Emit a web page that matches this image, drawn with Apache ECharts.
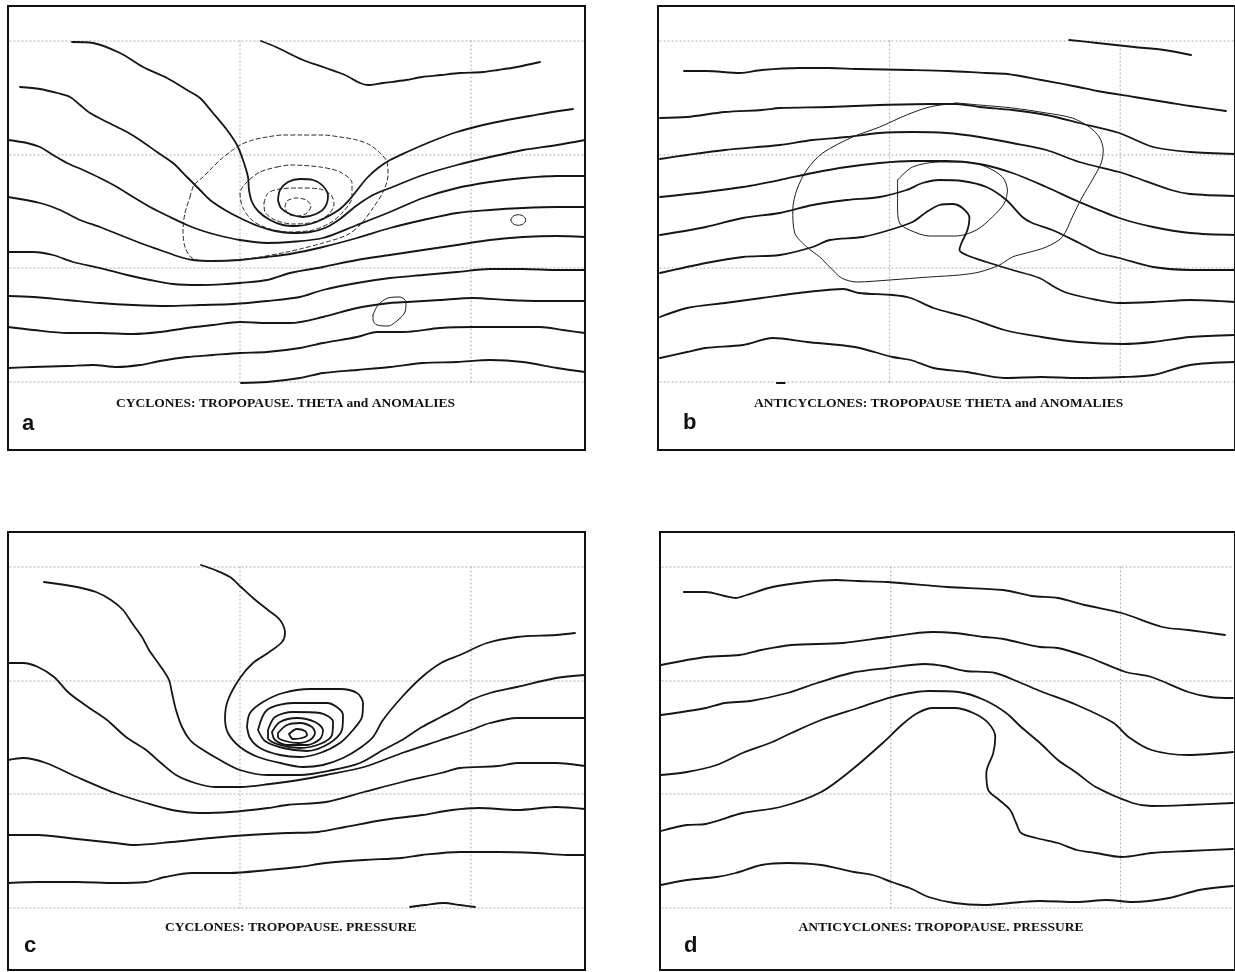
<!DOCTYPE html>
<html>
<head>
<meta charset="utf-8">
<script src="https://cdn.jsdelivr.net/npm/echarts@6/dist/echarts.min.js"></script>
<style>
  html, body { margin: 0; padding: 0; background: #fff; }
  #chart { width: 1235px; height: 972px; }
</style>
</head>
<body>
<div id="chart"></div>
<script>
// Composite tropopause maps. Coordinates are map units inside each frame:
// x grows eastwards from the frame's west edge, y grows southwards from its north edge.

// ---- graticule (shared by all four maps) ----
const gratLon = [23.2, 46.3];
const gratLat = [3.5, 14.9, 26.2, 37.6];

// ---- (a) cyclones: tropopause theta (solid) ----
const cycTheta1 = [[25.3,3.5],[26.8,4.1],[29.5,5.4],[31.8,6.2],[33.7,6.9],[35.2,7.7],[36.0,7.9],[37.5,7.7],[39.8,7.4],[41.4,7.1],[43.3,6.9],[45.2,6.7],[47.5,6.6],[49.0,6.4],[50.9,6.1],[53.2,5.6]];
const cycTheta2 = [[6.4,3.6],[8.5,3.7],[11.2,4.7],[13.5,6.1],[15.9,7.2],[17.9,8.4],[19.2,9.2],[20.5,10.7],[21.9,12.4],[22.9,13.9],[23.5,15.4],[24.0,17.1],[24.1,18.4],[24.4,19.6],[25.0,20.5],[26.2,21.4],[27.5,21.9],[28.8,22.0],[30.2,21.8],[31.5,21.3],[33.2,20.3],[34.2,19.3],[35.0,18.3],[35.9,17.2],[37.0,16.2],[38.2,15.4],[39.9,14.6],[42.2,13.6],[44.9,12.6],[47.5,11.9],[49.9,11.4],[52.2,11.0],[54.4,10.6],[56.5,10.3]];
const cycTheta3 = [[1.2,8.1],[3.2,8.3],[4.9,8.7],[6.2,9.1],[7.2,9.9],[8.2,10.7],[9.9,11.6],[11.9,12.6],[13.2,13.4],[14.9,14.6],[16.5,15.7],[17.9,17.1],[19.2,18.4],[20.2,19.4],[21.7,20.4],[23.2,21.2],[25.0,22.0],[26.7,22.5],[28.4,22.7],[30.2,22.6],[31.7,22.2],[33.2,21.3],[34.8,20.0],[36.5,18.9],[38.2,18.2],[41.5,16.9],[44.9,15.9],[48.2,15.1],[51.5,14.4],[54.9,13.9],[57.7,13.4]];
const cycTheta4 = [[0,13.4],[1.9,13.7],[3.2,14.1],[4.5,14.9],[5.9,15.7],[7.5,16.4],[9.2,17.2],[10.9,18.1],[12.5,19.1],[14.2,20.1],[16.2,21.1],[17.9,21.9],[19.2,22.4],[20.9,22.9],[23.2,23.4],[25.9,23.7],[28.2,23.6],[31.5,23.2],[34.9,21.9],[38.2,20.6],[41.5,19.2],[44.9,18.2],[48.2,17.6],[51.5,17.2],[54.9,17.0],[57.7,17.0]];
const cycTheta5 = [[0,19.1],[3.2,19.7],[5.2,20.4],[7.2,21.4],[9.2,22.1],[11.2,22.9],[13.2,23.7],[15.2,24.4],[17.2,25.1],[18.5,25.4],[20.5,25.5],[23.2,25.4],[25.9,25.1],[28.2,24.8],[31.5,24.1],[34.9,23.2],[38.2,22.2],[41.5,21.4],[44.9,20.7],[48.2,20.4],[51.5,20.2],[54.9,20.1],[57.7,20.1]];
const cycTheta6 = [[0,24.6],[2.5,24.6],[4.5,24.9],[6.5,25.6],[9.2,26.2],[11.9,26.9],[14.2,27.4],[16.5,27.8],[19.2,27.9],[21.9,27.8],[23.2,27.7],[25.9,27.4],[28.2,26.7],[31.5,26.1],[34.9,25.4],[38.2,24.9],[41.5,24.4],[44.9,23.9],[48.2,23.4],[51.5,23.1],[54.9,23.0],[57.7,23.1]];
const cycTheta7 = [[0,29.0],[2.5,29.1],[5.9,29.4],[9.2,29.7],[12.5,29.9],[15.9,30.0],[19.2,29.9],[22.5,29.8],[25.9,29.5],[29.2,29.1],[31.5,28.4],[34.9,27.7],[38.2,27.2],[41.5,26.9],[44.9,26.6],[48.2,26.3],[51.5,26.3],[54.9,26.4],[57.7,26.4]];
const cycTheta8 = [[0,32.1],[2.5,32.4],[5.9,32.7],[9.2,32.7],[12.5,32.8],[15.2,32.6],[17.9,32.2],[20.5,31.9],[23.2,31.6],[25.9,31.7],[28.2,31.7],[31.5,31.1],[34.9,30.2],[38.2,29.7],[39.9,29.6],[43.2,29.4],[46.5,29.2],[49.9,29.4],[53.2,29.5],[57.7,29.5]];
const cycTheta9 = [[0,36.2],[2.5,36.1],[5.9,36.0],[8.5,35.9],[10.9,36.1],[13.2,35.9],[15.2,35.5],[17.9,35.1],[20.5,34.9],[23.2,34.7],[25.9,34.6],[29.2,34.2],[31.5,33.7],[34.9,33.1],[36.9,32.6],[39.5,32.6],[43.2,32.2],[46.5,32.1],[49.9,32.1],[53.2,32.1],[55.5,32.4],[57.7,32.7]];
const cycTheta10 = [[23.3,37.7],[25.9,37.6],[29.2,37.2],[31.5,36.7],[34.9,36.4],[38.2,36.1],[41.5,35.7],[44.9,35.6],[48.2,35.4],[51.5,35.6],[54.9,36.2],[57.7,36.6]];
const cycThetaCore = [[27.0,19.4],[27.2,18.4],[28.0,17.6],[29.2,17.3],[30.5,17.4],[31.5,18.0],[32.0,19.0],[31.7,20.1],[30.8,20.8],[29.5,21.1],[28.2,20.8],[27.3,20.2],[27.0,19.4]];
// small closed theta cells
const cycCellEast = [[50.28,21.4],[50.5,21.03],[51.03,20.87],[51.56,21.03],[51.78,21.4],[51.56,21.77],[51.03,21.93],[50.5,21.77],[50.28,21.4]];
const cycCellSouth = [[36.5,30.9],[37.0,29.9],[38.0,29.2],[39.2,29.1],[39.8,29.6],[39.7,30.6],[39.0,31.4],[38.0,32.0],[36.9,31.9],[36.5,31.4],[36.5,30.9]];
// anomalies (dashed)
const cycAnom1 = [[18.2,19.1],[18.6,17.9],[19.5,17.1],[20.4,16.2],[21.2,15.4],[22.2,14.6],[23.2,13.9],[24.5,13.4],[25.9,13.1],[27.5,12.9],[29.2,12.9],[31.5,12.9],[33.2,13.1],[34.9,13.4],[36.2,13.9],[37.2,14.7],[37.9,15.6],[38.0,16.9],[37.5,18.6],[36.5,20.2],[35.2,21.9],[33.9,22.9],[31.5,23.7],[29.2,24.3],[27.9,24.6],[25.2,25.1],[22.5,25.4],[19.9,25.5],[18.4,25.2],[17.7,24.1],[17.5,22.4],[17.7,20.7],[18.2,19.1]];
const cycAnom2 = [[26.9,16.1],[28.2,15.9],[31.2,16.1],[33.2,16.6],[34.4,17.7],[34.4,19.1],[33.5,20.6],[32.2,21.7],[30.5,22.4],[28.2,22.6],[26.2,22.3],[24.5,21.5],[23.5,20.2],[23.2,18.7],[23.9,17.6],[25.2,16.6],[26.9,16.1]];
const cycAnom3 = [[25.6,19.7],[26.0,18.7],[27.2,18.3],[29.2,18.2],[31.2,18.3],[32.3,18.9],[32.6,19.8],[32.1,20.8],[30.6,21.6],[28.5,21.8],[26.7,21.4],[25.7,20.6],[25.6,19.7]];
const cycAnom4 = [[27.7,20.1],[27.9,19.5],[28.8,19.2],[29.8,19.4],[30.3,20.0],[29.9,20.7],[28.9,21.0],[28.0,20.8],[27.7,20.1]];

// ---- (b) anticyclones: tropopause theta (thick) and anomalies (thin) ----
const antiTheta1 = [[41.2,3.4],[44.0,3.7],[47.7,4.1],[50.7,4.4],[53.4,4.9]];
const antiTheta2 = [[2.6,6.5],[4.8,6.5],[8.2,6.7],[10.4,6.4],[14.1,6.2],[17.1,6.2],[20.1,6.3],[25.3,6.4],[29.1,6.5],[32.8,6.7],[35.0,6.8],[38.4,7.4],[42.1,8.1],[44.0,8.5],[47.7,9.1],[51.4,9.7],[53.3,10.0],[56.9,10.5]];
const antiTheta3 = [[0.2,11.2],[2.9,11.1],[6.7,10.6],[10.4,10.4],[12.2,10.2],[17.2,10.1],[22.2,9.9],[27.2,9.8],[29.9,9.8],[32.2,10.1],[35.5,10.4],[38.9,10.9],[42.2,11.7],[46.2,12.7],[49.6,14.1],[53.3,14.6],[57.8,14.8]];
const antiTheta4 = [[0.2,15.3],[2.9,14.9],[6.7,14.4],[12.2,13.9],[15.5,13.4],[18.9,13.1],[22.2,12.7],[25.5,12.6],[28.9,12.7],[32.2,13.1],[35.5,13.7],[38.9,14.4],[42.2,15.6],[46.2,16.6],[47.7,17.1],[51.4,18.4],[53.3,18.8],[57.8,19.0]];
const antiTheta5 = [[0.2,19.1],[4.8,18.6],[8.5,18.1],[12.2,17.4],[15.5,16.7],[18.9,16.1],[22.2,15.7],[25.5,15.5],[28.9,15.5],[32.2,15.8],[35.5,16.7],[38.9,18.1],[42.2,19.6],[46.2,21.2],[49.6,22.1],[53.3,22.7],[57.8,22.9]];
const antiTheta6 = [[0.2,22.9],[4.8,22.1],[8.5,21.2],[12.2,20.7],[15.5,19.9],[18.9,19.4],[22.2,19.1],[24.9,18.4],[26.5,17.7],[28.2,17.4],[30.5,17.5],[32.9,18.1],[34.9,19.4],[36.5,21.1],[37.5,21.7],[39.5,22.4],[42.2,23.7],[44.2,24.7],[46.2,25.2],[49.6,26.1],[53.3,26.4],[57.8,26.4]];
const antiTheta7 = [[0.2,26.7],[4.8,25.7],[8.5,25.1],[12.2,24.9],[15.5,24.1],[17.2,23.4],[20.5,23.1],[23.2,22.4],[25.5,21.6],[26.9,20.6],[28.2,19.9],[29.5,19.8],[30.5,20.2],[31.2,21.2],[31.0,22.4],[30.4,23.7],[30.2,24.4],[30.9,24.9],[32.9,25.6],[35.5,26.4],[38.2,27.2],[39.9,28.2],[41.0,28.7],[44.0,29.4],[46.2,29.7],[49.6,29.6],[53.3,29.4],[57.8,29.6]];
const antiTheta8 = [[0.2,31.1],[2.9,30.2],[6.7,29.7],[10.4,29.2],[14.1,28.7],[18.6,28.3],[20.1,28.7],[23.5,28.9],[25.3,29.2],[27.6,30.2],[30.9,31.1],[34.7,32.4],[38.4,33.1],[42.1,33.6],[46.6,33.8],[49.6,33.6],[53.3,33.1],[57.8,32.9]];
const antiTheta9 = [[0.2,35.2],[2.9,34.6],[4.8,34.2],[8.5,33.9],[11.5,33.2],[14.9,33.6],[19.7,34.1],[23.5,35.1],[25.3,35.4],[27.6,36.2],[30.9,36.6],[34.7,37.2],[38.4,37.1],[42.1,37.2],[46.6,37.1],[49.6,36.9],[53.3,35.9],[57.8,35.6]];
const antiThetaStub = [[11.9,37.7],[12.7,37.7]];
const antiAnom1 = [[29.9,9.7],[27.2,10.1],[24.9,10.9],[22.2,12.1],[19.5,13.1],[16.5,14.7],[14.9,16.4],[13.9,18.4],[13.5,20.4],[13.7,22.7],[14.9,24.1],[16.2,25.1],[17.2,26.1],[18.4,27.2],[19.9,27.6],[23.2,27.4],[27.2,27.1],[30.2,26.9],[32.2,26.6],[34.2,25.9],[35.5,25.1],[36.9,24.7],[38.9,24.1],[40.5,23.1],[41.5,21.1],[42.5,19.1],[43.5,17.4],[44.4,15.7],[44.6,14.4],[44.2,13.1],[43.2,12.1],[41.5,11.2],[38.9,10.7],[35.5,10.2],[32.2,9.9],[29.9,9.7]];
const antiAnom2 = [[24.0,17.4],[25.5,16.1],[28.2,15.6],[30.9,15.6],[32.9,16.1],[34.5,17.1],[35.0,18.4],[34.7,19.7],[33.5,21.1],[31.9,22.4],[29.9,23.0],[27.2,23.0],[25.2,22.4],[24.2,21.7],[24.0,20.1],[24.0,18.4],[24.0,17.4]];

// ---- (c) cyclones: tropopause pressure ----
const cycPres1 = [[19.3,3.3],[20.7,3.8],[22.2,4.5],[23.3,5.5],[24.5,6.6],[26.0,7.8],[27.2,8.8],[27.7,10.1],[27.4,11.0],[26.0,12.1],[24.5,13.1],[23.2,14.6],[22.0,16.8],[21.7,18.6],[22.0,20.1],[23.2,21.5],[25.0,22.5],[27.2,23.1],[29.5,23.5],[31.5,23.3],[33.5,22.6],[35.2,21.6],[36.5,20.5],[37.5,18.8],[39.4,16.5],[41.4,14.5],[43.3,13.1],[45.2,12.3],[47.9,11.1],[50.9,10.5],[54.8,10.3],[56.7,10.1]];
const cycPres2 = [[3.6,5.0],[6.9,5.5],[8.8,6.0],[10.3,6.8],[11.5,7.8],[12.4,9.1],[13.4,10.5],[14.1,11.8],[15.3,13.5],[16.1,14.8],[16.4,16.1],[16.8,17.8],[17.4,19.5],[18.2,20.8],[19.2,21.6],[21.2,22.8],[23.2,23.8],[25.9,24.3],[29.2,24.3],[32.5,23.8],[35.2,23.1],[37.5,21.8],[39.4,20.8],[41.4,19.5],[43.3,18.5],[45.2,17.5],[46.3,16.8],[48.2,16.1],[50.9,15.5],[54.8,14.6],[57.7,14.3]];
const cycPres3 = [[0,13.1],[1.5,13.1],[3.0,13.5],[4.6,14.5],[6.1,16.1],[8.0,17.5],[9.9,18.8],[11.8,20.5],[13.8,21.8],[15.3,23.1],[16.8,24.3],[18.7,25.1],[20.7,25.5],[23.3,25.5],[26.2,25.2],[29.1,24.8],[31.8,24.3],[35.6,23.5],[39.4,22.1],[43.3,20.8],[46.3,19.8],[48.2,19.1],[50.9,18.6],[54.8,18.6],[57.7,18.6]];
const cycPres4 = [[0,22.8],[1.5,22.6],[3.8,23.1],[6.9,24.5],[10.7,26.1],[13.8,27.1],[16.4,27.8],[19.1,28.1],[22.2,28.0],[26.0,27.6],[27.9,27.3],[31.8,27.0],[35.6,26.0],[39.4,25.0],[43.3,24.1],[45.2,23.6],[49.0,23.4],[50.9,23.1],[54.8,23.1],[57.7,23.4]];
const cycPres5 = [[0,30.3],[3.0,30.3],[6.9,30.7],[10.7,31.1],[12.6,31.3],[16.4,31.0],[20.3,30.6],[24.1,30.3],[27.9,30.1],[31.0,30.0],[33.7,29.5],[37.5,28.8],[41.4,28.3],[44.4,27.8],[47.1,27.6],[50.9,27.8],[54.8,27.5],[57.7,27.7]];
const cycPres6 = [[0,35.1],[3.0,35.0],[6.9,35.0],[10.7,35.1],[13.8,35.0],[15.7,34.5],[18.4,34.1],[22.2,34.1],[26.0,33.8],[29.1,33.5],[31.8,33.1],[35.6,32.8],[39.4,32.6],[41.4,32.3],[45.2,32.0],[49.0,32.0],[52.8,32.1],[55.9,32.3],[57.7,32.3]];
const cycPres7 = [[40.2,37.5],[41.7,37.3],[43.6,37.1],[45.2,37.3],[46.7,37.5]];
const cycPresRing1 = [[23.9,19.5],[24.2,18.1],[25.5,17.0],[27.5,16.1],[30.2,15.7],[33.2,15.7],[34.9,16.1],[35.5,17.1],[35.4,18.5],[34.5,19.8],[33.2,21.1],[31.2,22.1],[29.2,22.5],[27.2,22.3],[25.2,21.6],[24.2,20.6],[23.9,19.5]];
const cycPresRing2 = [[25.0,19.8],[25.9,17.8],[28.5,17.1],[31.9,17.1],[33.5,18.3],[33.4,19.8],[32.2,21.1],[29.9,21.9],[27.5,21.6],[25.7,20.9],[25.0,19.8]];
const cycPresRing3 = [[26.0,19.8],[26.7,18.5],[28.5,18.0],[31.2,18.1],[32.5,19.0],[32.4,20.3],[31.2,21.2],[29.2,21.6],[27.2,21.3],[26.0,20.6],[26.0,19.8]];
const cycPresRing4 = [[26.4,20.0],[27.2,19.0],[28.9,18.6],[30.7,19.0],[31.5,19.8],[31.2,20.7],[29.9,21.3],[28.0,21.3],[26.7,20.8],[26.4,20.0]];
const cycPresRing5 = [[27.0,20.1],[27.9,19.3],[29.2,19.1],[30.4,19.5],[30.7,20.1],[30.2,20.8],[29.0,21.1],[27.7,20.9],[27.0,20.5],[27.0,20.1]];
const cycPresRing6 = [[28.1,20.2],[28.9,19.7],[29.7,19.9],[29.9,20.3],[29.4,20.6],[28.5,20.7],[28.1,20.2]];

// ---- (d) anticyclones: tropopause pressure ----
const antiPres1 = [[2.4,6.0],[4.6,6.0],[6.5,6.4],[7.6,6.6],[8.7,6.3],[11.3,5.5],[14.7,5.0],[17.7,4.8],[19.9,4.9],[22.9,5.0],[28.9,5.5],[34.5,5.8],[37.4,6.4],[40.0,6.6],[42.7,7.3],[46.4,8.1],[50.5,9.5],[53.1,9.8],[56.8,10.3]];
const antiPres2 = [[0.1,13.3],[4.6,12.5],[8.0,12.3],[10.2,11.8],[13.2,11.3],[18.4,11.1],[22.9,10.5],[27.4,10.0],[29.6,10.1],[32.6,10.5],[34.5,10.7],[38.2,11.5],[40.0,11.6],[43.0,12.5],[46.8,14.0],[49.4,14.5],[53.1,16.0],[55.3,16.5],[57.6,16.6]];
const antiPres3 = [[0.1,18.3],[4.6,17.6],[6.5,17.1],[9.1,16.9],[12.8,16.1],[15.8,15.1],[19.2,14.1],[22.9,13.6],[26.6,13.2],[28.5,13.4],[30.7,13.9],[33.7,14.1],[36.3,15.1],[38.2,15.9],[41.9,17.3],[45.6,19.1],[47.1,20.5],[49.4,21.8],[53.1,22.3],[57.6,22.0]];
const antiPres4 = [[0.1,24.3],[2.7,24.0],[5.7,23.3],[8.3,22.1],[11.3,21.0],[13.2,20.1],[16.2,18.8],[19.9,17.6],[23.3,16.5],[27.0,15.9],[30.0,16.0],[32.6,16.8],[34.8,18.1],[36.3,19.5],[38.2,21.1],[40.0,22.8],[41.9,24.1],[43.8,25.5],[47.5,27.1],[49.4,27.4],[53.1,27.3],[57.6,27.1]];
const antiPres5 = [[0.1,29.9],[2.7,29.3],[4.6,29.2],[8.3,28.1],[12.1,27.5],[16.2,26.0],[19.5,23.6],[22.5,21.0],[24.4,19.2],[25.9,18.1],[27.4,17.6],[29.6,17.6],[31.5,18.1],[33.0,19.1],[33.7,20.5],[33.5,22.1],[32.8,24.1],[33.0,25.8],[34.1,26.8],[35.2,27.8],[35.8,29.1],[36.3,30.1],[37.8,30.6],[40.0,31.1],[41.9,31.8],[43.8,32.1],[46.4,32.5],[49.4,32.1],[53.1,31.9],[57.6,31.7]];
const antiPres6 = [[0.1,35.3],[2.7,34.8],[5.7,34.5],[7.6,34.1],[10.2,33.3],[12.8,33.1],[16.2,33.3],[19.5,34.0],[21.4,34.3],[23.3,35.0],[25.1,35.6],[27.0,36.5],[29.6,37.1],[32.6,37.3],[36.3,37.0],[38.2,36.9],[41.9,37.0],[44.9,36.8],[47.5,37.0],[51.2,36.6],[54.2,35.8],[57.6,35.4]];

// ---- captions ----
const captions = [
  'CYCLONES: TROPOPAUSE. THETA and ANOMALIES',
  'ANTICYCLONES: TROPOPAUSE THETA and ANOMALIES',
  'CYCLONES: TROPOPAUSE. PRESSURE',
  'ANTICYCLONES: TROPOPAUSE. PRESSURE'
];
const panelLetters = ['a', 'b', 'c', 'd'];

// map extent (units) of each frame
const extentX = [57.7, 57.8, 57.7, 57.8];
const extentY = [44.4, 44.4, 43.8, 43.8];

// ---- layout ----
const frames = [
  { left: 8,   top: 6,   width: 577, height: 444 },
  { left: 658, top: 6,   width: 578, height: 444 },
  { left: 8,   top: 532, width: 577, height: 438 },
  { left: 660, top: 532, width: 578, height: 438 }
];
const captionPos = [[285.5, 404], [938.6, 404], [290.8, 928], [941, 928]];
const letterPos  = [[22, 423.5], [683, 422.5], [24, 945.5], [684, 945.5]];

const LINE = {
  thick: { color: '#151515', width: 1.8, type: 'solid' },
  thin:  { color: '#1c1c1c', width: 1.0, type: 'solid' },
  dash:  { color: '#262626', width: 1.0, type: [4, 3] },
  grat:  { color: '#a6a6a6', width: 1.0, type: [1, 3] }
};

const contours = [
  [0, cycTheta1, 'thick'], [0, cycTheta2, 'thick'], [0, cycTheta3, 'thick'], [0, cycTheta4, 'thick'],
  [0, cycTheta5, 'thick'], [0, cycTheta6, 'thick'], [0, cycTheta7, 'thick'], [0, cycTheta8, 'thick'],
  [0, cycTheta9, 'thick'], [0, cycTheta10, 'thick'], [0, cycThetaCore, 'thick'],
  [0, cycCellEast, 'thin'], [0, cycCellSouth, 'thin'],
  [0, cycAnom1, 'dash'], [0, cycAnom2, 'dash'], [0, cycAnom3, 'dash'], [0, cycAnom4, 'dash'],

  [1, antiTheta1, 'thick'], [1, antiTheta2, 'thick'], [1, antiTheta3, 'thick'], [1, antiTheta4, 'thick'],
  [1, antiTheta5, 'thick'], [1, antiTheta6, 'thick'], [1, antiTheta7, 'thick'], [1, antiTheta8, 'thick'],
  [1, antiTheta9, 'thick'], [1, antiThetaStub, 'thick'],
  [1, antiAnom1, 'thin'], [1, antiAnom2, 'thin'],

  [2, cycPres1, 'thick'], [2, cycPres2, 'thick'], [2, cycPres3, 'thick'], [2, cycPres4, 'thick'],
  [2, cycPres5, 'thick'], [2, cycPres6, 'thick'], [2, cycPres7, 'thick'],
  [2, cycPresRing1, 'thick'], [2, cycPresRing2, 'thick'], [2, cycPresRing3, 'thick'],
  [2, cycPresRing4, 'thick'], [2, cycPresRing5, 'thick'], [2, cycPresRing6, 'thick'],

  [3, antiPres1, 'thick'], [3, antiPres2, 'thick'], [3, antiPres3, 'thick'],
  [3, antiPres4, 'thick'], [3, antiPres5, 'thick'], [3, antiPres6, 'thick']
];

function lineSeries(gi, data, kind) {
  return {
    type: 'line',
    xAxisIndex: gi,
    yAxisIndex: gi,
    data: data,
    symbol: 'none',
    showSymbol: false,
    smooth: kind === 'grat' ? false : 0.3,
    silent: true,
    animation: false,
    z: kind === 'grat' ? 1 : 3,
    lineStyle: Object.assign({ cap: 'round', join: 'round' }, LINE[kind])
  };
}

const series = [];
frames.forEach(function (f, gi) {
  const y0 = gratLat[0], y1 = gratLat[gratLat.length - 1];
  gratLon.forEach(function (lon) {
    series.push(lineSeries(gi, [[lon, y0], [lon, y1]], 'grat'));
  });
  gratLat.forEach(function (lat) {
    series.push(lineSeries(gi, [[0.2, lat], [extentX[gi] - 0.2, lat]], 'grat'));
  });
});
contours.forEach(function (c) { series.push(lineSeries(c[0], c[1], c[2])); });

const graphics = [];
frames.forEach(function (f, i) {
  graphics.push({
    type: 'text', x: captionPos[i][0], y: captionPos[i][1], z: 10,
    style: {
      text: captions[i], fill: '#111',
      font: 'bold 13.5px "Liberation Serif", "Times New Roman", serif',
      align: 'center', verticalAlign: 'middle'
    }
  });
  graphics.push({
    type: 'text', x: letterPos[i][0], y: letterPos[i][1], z: 10,
    style: {
      text: panelLetters[i], fill: '#111',
      font: 'bold 22px "Liberation Sans", Arial, sans-serif',
      align: 'left', verticalAlign: 'middle'
    }
  });
});

const option = {
  animation: false,
  backgroundColor: '#fff',
  grid: frames.map(function (f) {
    return {
      left: f.left, top: f.top, width: f.width, height: f.height,
      show: true, backgroundColor: '#fff', borderColor: '#111', borderWidth: 2,
      containLabel: false
    };
  }),
  xAxis: frames.map(function (f, i) {
    return { gridIndex: i, type: 'value', min: 0, max: extentX[i], show: false };
  }),
  yAxis: frames.map(function (f, i) {
    return { gridIndex: i, type: 'value', min: 0, max: extentY[i], inverse: true, show: false };
  }),
  series: series,
  graphic: graphics
};

const chart = echarts.init(document.getElementById('chart'), null, { renderer: 'canvas' });
chart.setOption(option);
</script>
</body>
</html>
